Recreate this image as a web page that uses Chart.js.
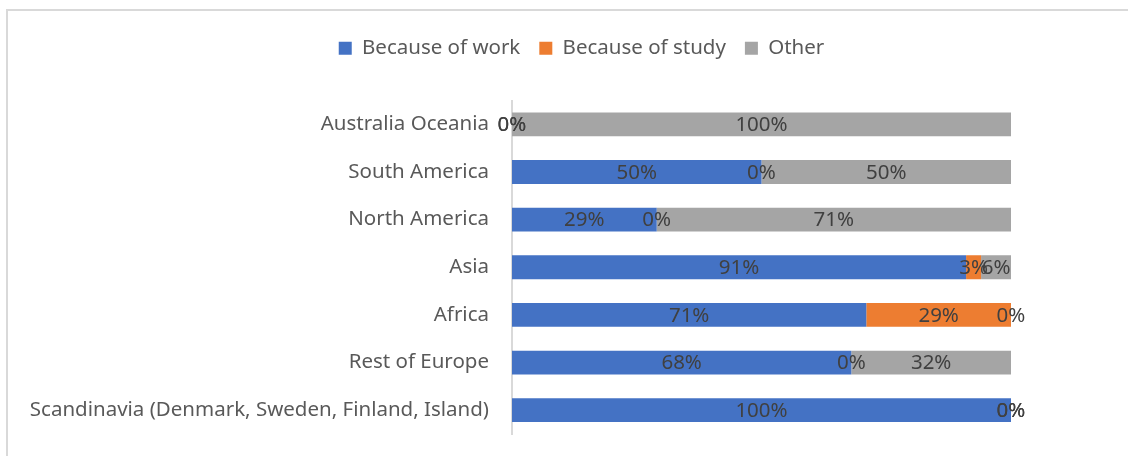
<!DOCTYPE html>
<html>
<head>
<meta charset="utf-8">
<script src="https://cdn.jsdelivr.net/npm/chart.js@4/dist/chart.umd.min.js"></script>
<style>
  html, body { margin: 0; padding: 0; background: #fff; overflow: hidden; }
  #frame { position: absolute; left: 6px; top: 9px; width: 1140px; height: 470px; border: 2px solid #d9d9d9; }
  #wrap { position: absolute; left: 0; top: 0; width: 1128px; height: 456px; }
</style>
</head>
<body>
<div id="frame"></div>
<div id="wrap"><canvas id="myChart" width="1128" height="456"></canvas></div>
<script>
const Regions = ['Australia Oceania', 'South America', 'North America', 'Asia', 'Africa', 'Rest of Europe', 'Scandinavia (Denmark, Sweden, Finland, Island)'];
const WorkData = [0, 50, 29, 91, 71, 68, 100];
const StudyData = [0, 0, 0, 3, 29, 0, 0];
const OtherData = [100, 50, 71, 6, 0, 32, 0];

const FONT = 'Noto Sans';
const FSIZE = 20.5;
const ctx = document.getElementById('myChart');

// labels in the middle of every segment, zero ones too (like excel does)
const barLabels = {
  id: 'barLabels',
  afterDatasetsDraw(chart) {
    const c = chart.ctx;
    c.save();
    c.font = FSIZE + 'px "' + FONT + '"';
    c.fillStyle = '#404040';
    c.textAlign = 'center';
    c.textBaseline = 'middle';
    chart.data.datasets.forEach(function(ds, i) {
      const meta = chart.getDatasetMeta(i);
      meta.data.forEach(function(bar, j) {
        const p = bar.getCenterPoint();
        c.fillText(ds.data[j] + '%', p.x, p.y + 1);
      });
    });
    c.restore();
  }
};

// extra room under the legend, and move it a bit right
const legendSpace = {
  id: 'legendSpace',
  beforeInit(chart) {
    const orig = chart.legend.fit;
    chart.legend.fit = function() {
      orig.call(this);
      this.height += 32;
    };
  },
  afterLayout(chart) {
    chart.legend.left += 76;
    chart.legend.right += 76;
  }
};

const myChart = new Chart(ctx, {
  type: 'bar',
  data: {
    labels: Regions,
    datasets: [
      { label: 'Because of work', data: WorkData, backgroundColor: '#4472C4' },
      { label: 'Because of study', data: StudyData, backgroundColor: '#ED7D31' },
      { label: 'Other', data: OtherData, backgroundColor: '#A5A5A5' }
    ]
  },
  options: {
    indexAxis: 'y',
    responsive: false,
    animation: false,
    devicePixelRatio: 1,
    datasets: { bar: { barPercentage: 0.5, categoryPercentage: 1 } },
    layout: { padding: { left: 0, right: 117, top: 19, bottom: 22 } },
    plugins: {
      legend: {
        position: 'top',
        labels: {
          font: { family: FONT, size: FSIZE },
          color: '#595959',
          boxWidth: 13,
          boxHeight: 13,
          padding: 19
        }
      },
      tooltip: { enabled: false }
    },
    scales: {
      x: {
        stacked: true,
        min: 0,
        max: 100,
        display: false
      },
      y: {
        stacked: true,
        grid: { display: false, drawTicks: false },
        border: { color: '#d9d9d9', width: 2 },
        ticks: {
          font: { family: FONT, size: FSIZE },
          color: '#595959',
          padding: 23
        },
        afterFit(scale) {
          scale.width = 512;
          scale.paddingTop = 0;
          scale.paddingBottom = 0;
        }
      }
    }
  },
  plugins: [barLabels, legendSpace]
});
</script>
</body>
</html>
